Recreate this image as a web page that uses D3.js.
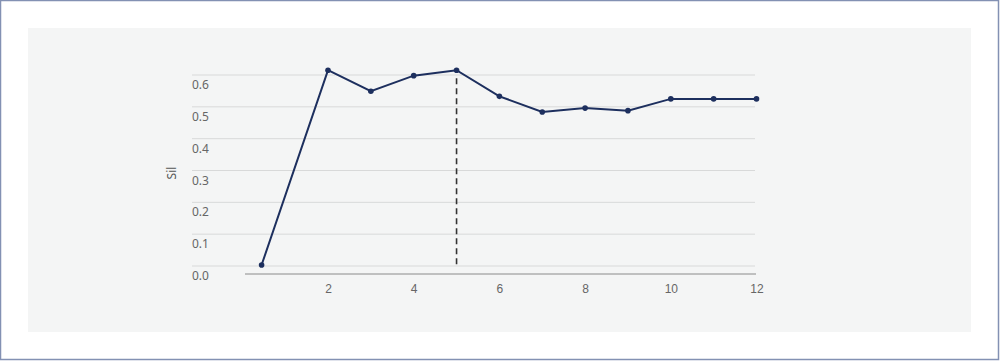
<!DOCTYPE html>
<html lang="en">
<head>
    <meta charset="UTF-8">
    <title>Silhouette by k</title>
    <script src="https://d3js.org/d3.v7.min.js"></script>
    <style>
        body { margin: 0; background: #fff; }
        svg { display: block; font-family: "Noto Sans", "Open Sans", sans-serif; }
    </style>
</head>
<body>
    <div id="chart"></div>
    <script>
        // values
        const kValues = [0.45, 2, 3, 4, 5, 6, 7, 8, 9, 10, 11, 12];
        const silValues = [0.003, 0.615, 0.549, 0.598, 0.615, 0.533, 0.484, 0.496, 0.488, 0.525, 0.525, 0.525];
        const yTicks = [0.0, 0.1, 0.2, 0.3, 0.4, 0.5, 0.6];
        const xTicks = [2, 4, 6, 8, 10, 12];
        const markerK = 5;

        const W = 1000, H = 361;
        const svg = d3.select("#chart").append("svg").attr("width", W).attr("height", H);

        // outer frame and panel
        svg.append("rect").attr("x", 0.5).attr("y", 0.5).attr("width", W - 2).attr("height", H - 2)
            .attr("fill", "#fff").attr("stroke", "#8391b3").attr("stroke-width", 1.5);
        svg.append("rect").attr("x", 28).attr("y", 28).attr("width", 943).attr("height", 304)
            .attr("fill", "#f4f5f5");

        const x = d3.scaleLinear().domain([0, 12]).range([242.3, 756.5]);
        const y = d3.scaleLinear().domain([0, 0.6]).range([266, 75]);

        // gridlines + y labels under each line
        const grid = svg.append("g");
        grid.selectAll("line").data(yTicks).enter().append("line")
            .attr("x1", 192).attr("x2", 755)
            .attr("y1", d => y(d)).attr("y2", d => y(d))
            .attr("stroke", "#d8d9d9").attr("stroke-width", 1);
        grid.selectAll("text").data(yTicks).enter().append("text")
            .attr("x", 192).attr("y", d => y(d) + 14)
            .attr("font-size", 12).attr("fill", "#666")
            .text(d => d3.format(".1f")(d));

        // x axis
        const xAxis = svg.append("g").attr("transform", "translate(0,274)")
            .call(d3.axisBottom(x).tickValues(xTicks).tickSize(0).tickPadding(10));
        xAxis.select(".domain").attr("stroke", "#8a8a8a").attr("d", `M245,0H756`);
        xAxis.selectAll("text").attr("font-size", 12).attr("fill", "#666").attr("font-family", null);

        svg.append("text")
            .attr("transform", "translate(176,173) rotate(-90)")
            .attr("text-anchor", "middle")
            .attr("font-size", 12).attr("fill", "#555")
            .text("Sil");

        // dashed marker at chosen k
        svg.append("line")
            .attr("x1", x(markerK)).attr("x2", x(markerK))
            .attr("y1", y(silValues[kValues.indexOf(markerK)]) + 8).attr("y2", y(0))
            .attr("stroke", "#333").attr("stroke-width", 1.6).attr("stroke-dasharray", "6,4");

        const pts = kValues.map((k, i) => ({ k: k, v: silValues[i] }));
        const line = d3.line().x(d => x(d.k)).y(d => y(d.v));
        svg.append("path").datum(pts)
            .attr("d", line).attr("fill", "none")
            .attr("stroke", "#1d2f5e").attr("stroke-width", 2);
        svg.selectAll(".pt").data(pts).enter().append("circle")
            .attr("cx", d => x(d.k)).attr("cy", d => y(d.v)).attr("r", 2.8)
            .attr("fill", "#1d2f5e");
    </script>
</body>
</html>
